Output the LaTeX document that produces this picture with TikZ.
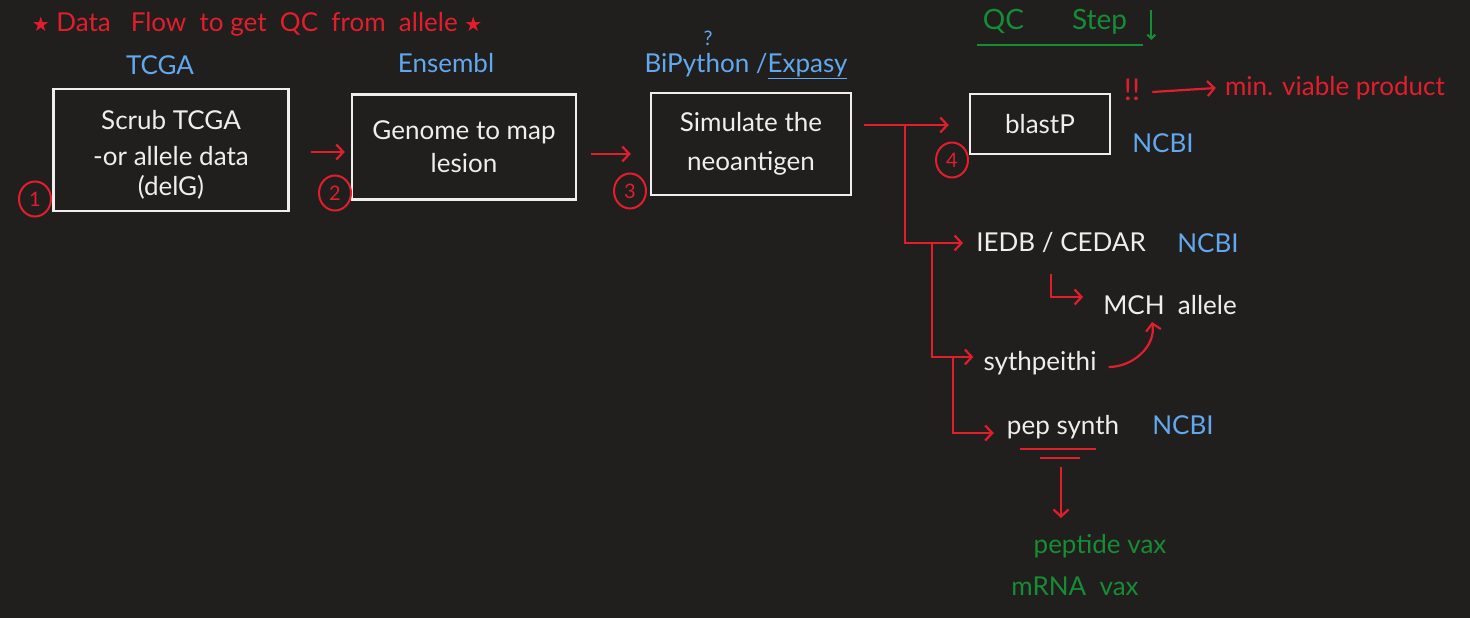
\documentclass[tikz,border=0pt]{standalone}
\usepackage{fontspec}
\setmainfont{Lato}
\newfontfamily\symfont{DejaVu Sans}
\usetikzlibrary{positioning}
\usetikzlibrary{arrows,arrows.meta}
\usetikzlibrary{calc}
\usetikzlibrary{shapes.geometric}
\definecolor{board}{RGB}{32,31,30}
\definecolor{inkred}{RGB}{226,30,45}
\definecolor{inkblue}{RGB}{98,168,238}
\definecolor{inkgreen}{RGB}{22,140,52}
\definecolor{inkwhite}{RGB}{238,238,238}
\newcommand{\hand}{\fontsize{26}{30}\selectfont}
\newcommand{\starmark}{{\symfont\fontsize{20}{20}\selectfont ★}}
\tikzstyle{line} = [draw, inkred, line width=2.2pt, -{Straight Barb[length=7pt,width=15pt]}]

\begin{document}
\begin{tikzpicture}[x=1pt, y=-1pt,
        stage/.style={draw=inkwhite, line width=2.4pt, text=inkwhite,
            align=center, inner sep=0pt, font=\hand},
        tool/.style={text=inkblue, font=\hand, inner sep=0pt},
        note/.style={text=inkwhite, font=\hand, inner sep=0pt},
        result/.style={text=inkgreen, font=\hand, inner sep=0pt},
        remark/.style={text=inkred, font=\hand, inner sep=0pt},
        numcircle/.style={draw=inkred, ellipse, line width=2pt, text=inkred,
            minimum width=32pt, minimum height=35pt, inner sep=0pt,
            font=\fontsize{20}{20}\selectfont}]
        \useasboundingbox[fill=board] (0,0) rectangle (1470,618);
        %% Title
        \node [remark] at (257,24) (title) {\starmark\ Data\ \ \ Flow\ \ to get\ \ QC\ \ from\ \ allele \starmark};
        \node [result, font=\fontsize{28}{30}\selectfont] at (1055,22) (qc) {QC\hspace{48pt}Step};
        \draw [inkgreen, line width=2.2pt] ($(qc.south west)+(-6,10)$) -- ($(qc.south east)+(16,10)$);
        \draw [inkgreen, line width=2pt, -{Straight Barb[length=4pt,width=8pt]}] ($(qc.east)+(24,-12)$) -- ++(0,30);
        %% Stages
        \node [stage, minimum width=235pt, minimum height=122pt] at (171,150) (scrub)
            {\mbox{}\\[-2pt]Scrub TCGA\\[6pt]-or allele data\\[0pt](delG)};
        \node [stage, minimum width=224pt, minimum height=105pt] at (464,147) (genome)
            {Genome to map\\[3pt]lesion};
        \node [stage, minimum width=200pt, minimum height=102pt] at (751,144) (sim)
            {Simulate the\\[9pt]neoantigen};
        \node [stage, minimum width=140pt, minimum height=60pt] at (1040,124) (blast) {blastP};
        %% Sources
        \node [tool] at (160,65) (tcga) {TCGA};
        \node [tool] at (446,63) (ensembl) {Ensembl};
        \node [tool] at (746,66) (bio) {BiPython /\underline{Expasy}};
        \node [tool, font=\fontsize{20}{20}\selectfont] at (708,38) (qmark) {?};
        \node [tool] at (1163,143) (ncbiA) {NCBI};
        \node [tool] at (1208,243) (ncbiB) {NCBI};
        \node [tool] at (1183,425) (ncbiC) {NCBI};
        %% Step numbers
        \node [numcircle] at (35,199) (n1) {1};
        \node [numcircle] at (335,193) (n2) {2};
        \node [numcircle] at (630,191) (n3) {3};
        \node [numcircle] at (952,160) (n4) {4};
        %% QC targets
        \node [remark, font=\fontsize{30}{30}\selectfont] at (1132,90) (bang) {!!};
        \node [remark] at (1335,88) (mvp) {min. viable product};
        \node [note] at (1061,243) (iedb) {IEDB / CEDAR};
        \node [note] at (1170,305) (mch) {MCH\ \ allele};
        \node [note] at (1040,363) (syth) {sythpeithi};
        \node [note] at (1063,427) (pep) {pep synth};
        \node [result] at (1100,546) (pepvax) {peptide vax};
        \node [result] at (1075,586) (mrna) {mRNA\ \ vax};
        %% Arcs
        \path [line] ($(scrub.east)+(21,2)$) -- ($(genome.west)+(-6,5)$);
        \path [line] ($(genome.east)+(14,7)$) -- ($(sim.west)+(-19,10)$);
        \coordinate (fork) at (905,125);
        \coordinate (forkB) at (932,243);
        \coordinate (forkC) at (953,357);
        \path [line] ($(sim.east|-fork)+(12,0)$) -- ($(blast.west|-fork)+(-20,0)$);
        \path [line] (fork) |- ($(iedb.west)+(-13,0)$);
        \path [line] (forkB) |- ($(syth.west)+(-10,-6)$);
        \path [line] (forkC) |- ($(pep.west)+(-13,6)$);
        \path [line] ($(iedb.center)+(-10,31)$) |- ($(mch.west)+(-20,-8)$);
        \path [line] ($(syth.east)+(12,4)$) to [out=0, in=-80] ($(mch.center)+(-18,17)$);
        \path [line] ($(bang.east)+(12,2)$) -- ($(mvp.west)+(-9,0)$);
        \draw [inkred, line width=2pt] ($(pep.center)+(-43,22)$) -- ++(76,0);
        \draw [inkred, line width=2pt] ($(pep.center)+(-23,31)$) -- ++(40,0);
        \path [line] ($(pep.center)+(-2,40)$) -- ($(pepvax.center)+(-39,-28)$);
    \end{tikzpicture}
\end{document}
